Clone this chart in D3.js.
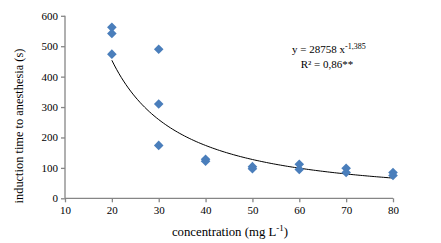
<!DOCTYPE html>
<html><head><meta charset="utf-8">
<script src="https://cdn.jsdelivr.net/npm/d3@7"></script>
<style>body{margin:0;background:#fff}svg{display:block}text{font-family:"Liberation Serif","Times New Roman",serif;fill:#000}</style>
</head><body><svg id="c" width="441" height="243"></svg>
<script>
const concX = [20,20,20,30,30,30,40,40,50,50,60,60,70,70,80,80];
const timeY = [562,542,474,490,310,174,128,122,104,97,112,95,99,85,85,75];
const xTicks = [10,20,30,40,50,60,70,80];
const yTicks = [0,100,200,300,400,500,600];
const coefA = 28758, coefB = -1.385;
const eqText = "y = 28758 x", eqExp = "-1,385", r2Text = "R² = 0,86**";
const xTitle = "concentration (mg L", xTitleExp = "-1", yTitle = "induction time to anesthesia (s)";

const svg = d3.select("#c");
const x = d3.scaleLinear().domain([10,80]).range([65,393]);
const y = d3.scaleLinear().domain([0,600]).range([198.3,15.8]);
const axisCol = "#868686";

const gx = svg.append("g").attr("transform","translate(0,198.3)")
  .call(d3.axisBottom(x).tickValues(xTicks).tickSize(4).tickPadding(4));
const gy = svg.append("g").attr("transform","translate(65,0)")
  .call(d3.axisLeft(y).tickValues(yTicks).tickSize(4).tickPadding(3));
[gx,gy].forEach(g=>{
  g.selectAll("path,line").attr("stroke",axisCol).attr("stroke-width",1.3);
  g.selectAll("text").style("font-family",'"Liberation Serif",serif').style("font-size","11px").attr("fill","#000");
});
gx.select(".domain").attr("d","M65,0H393");
gy.select(".domain").attr("d","M0,198.3V15.8");

// trend curve
const xs = d3.range(20,80.01,0.5);
svg.append("path").datum(xs)
  .attr("d", d3.line().x(d=>x(d)).y(d=>y(coefA*Math.pow(d,coefB))))
  .attr("fill","none").attr("stroke","#000").attr("stroke-width",1);

// markers
const r = 4.8;
svg.append("g").selectAll("path").data(concX.map((c,i)=>[c,timeY[i]])).join("path")
  .attr("d", d=>{const cx=x(d[0]), cy=y(d[1]); return `M${cx},${cy-r}L${cx+r},${cy}L${cx},${cy+r}L${cx-r},${cy}Z`;})
  .attr("fill","#4a7ebb");

// equation
const eq = svg.append("text").attr("x",292).attr("y",53).style("font-size","11px");
eq.append("tspan").text(eqText);
eq.append("tspan").attr("dy",-4).style("font-size","8px").text(eqExp);
svg.append("text").attr("x",327).attr("y",68).attr("text-anchor","middle").style("font-size","11px").text(r2Text);

// axis titles
const xt = svg.append("text").attr("x",230).attr("y",236).attr("text-anchor","middle").style("font-size","12.8px");
xt.append("tspan").text(xTitle);
xt.append("tspan").attr("dy",-5).style("font-size","9px").text(xTitleExp);
xt.append("tspan").attr("dy",5).text(")");
svg.append("text").attr("transform","translate(23,126) rotate(-90)").attr("text-anchor","middle").style("font-size","12.4px").text(yTitle);
</script></body></html>
